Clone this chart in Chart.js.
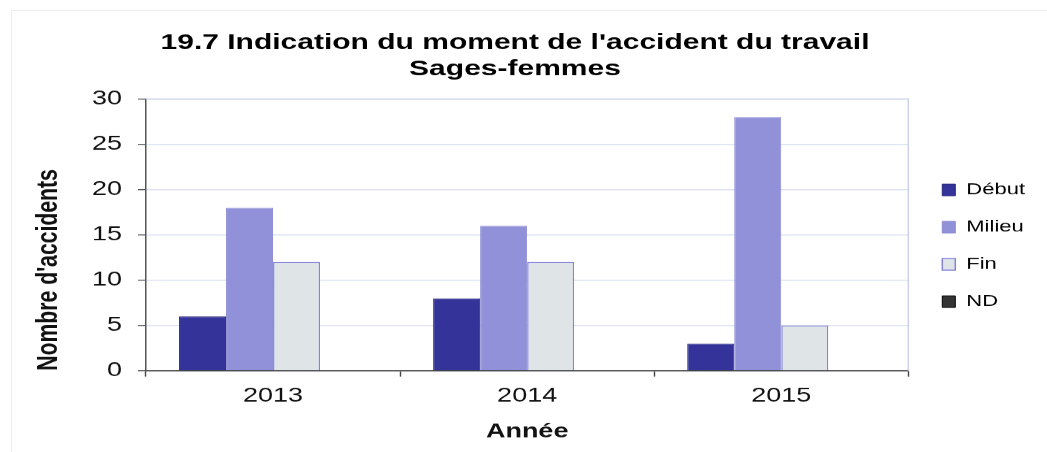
<!DOCTYPE html>
<html>
<head>
<meta charset="utf-8">
<script src="https://cdn.jsdelivr.net/npm/chart.js@4/dist/chart.umd.min.js"></script>
<style>
	html, body { margin: 0; padding: 0; background: #fff; overflow: hidden; }
	#wrap { position: relative; width: 1047px; height: 452px; overflow: hidden; }
	#frame { position: absolute; left: 11px; top: 10px; width: 1100px; height: 500px; border-left: 1px solid #eeeeee; border-top: 1px solid #eeeeee; }
	/* the source picture is squashed vertically, so draw tall and squash */
	#squash { position: absolute; left: 0; top: 0; width: 1047px; height: 619px; transform: scaleY(0.7302); transform-origin: 0 0; }
</style>
</head>
<body>
<div id="wrap">
	<div id="frame"></div>
	<div id="squash"><canvas id="chart" width="1047" height="619"></canvas></div>
</div>
<script>
const years = ['2013', '2014', '2015'];
const debut = [6, 8, 3];
const milieu = [18, 16, 28];
const fin = [12, 12, 5];
const nd = [0, 0, 0];
const titleLines = ["19.7 Indication du moment de l'accident du travail", 'Sages-femmes'];
const xTitle = 'Année';
const yTitle = "Nombre d'accidents";

const family = "'Liberation Sans', Arial, sans-serif";

// move legend a bit right and down, like the original
const legendShift = {
	id: 'legendShift',
	afterLayout(chart) {
		const lg = chart.legend;
		lg.left += 5;
		lg.right += 5;
		lg.top += 15;
		lg.bottom += 15;
	}
};

// light blue frame on top and right of plot area
const plotFrame = {
	id: 'plotFrame',
	beforeDatasetsDraw(chart) {
		const ctx = chart.ctx, a = chart.chartArea;
		ctx.save();
		ctx.strokeStyle = '#c8d0ec';
		ctx.lineWidth = 1.4;
		ctx.beginPath();
		ctx.moveTo(a.left, a.top);
		ctx.lineTo(a.right, a.top);
		ctx.lineTo(a.right, a.bottom);
		ctx.stroke();
		ctx.restore();
	}
};

var ctx = document.getElementById('chart').getContext('2d');
var chart = new Chart(ctx, {
	type: 'bar',
	data: {
		labels: years,
		datasets: [
			{ label: 'Début', data: debut, backgroundColor: '#333399', borderColor: '#28287e', borderWidth: 1 },
			{ label: 'Milieu', data: milieu, backgroundColor: '#9191d9', borderColor: '#8a8ad2', borderWidth: 1 },
			{ label: 'Fin', data: fin, backgroundColor: '#dfe4e6', borderColor: '#8383dc', borderWidth: 1.5 },
			{ label: 'ND', data: nd, backgroundColor: '#333333', borderColor: '#000000', borderWidth: 1 }
		]
	},
	options: {
		responsive: false,
		animation: false,
		datasets: { bar: { categoryPercentage: 0.74, barPercentage: 1.0 } },
		layout: { padding: { left: 0, right: 17, top: 0, bottom: 0 } },
		plugins: {
			title: {
				display: true,
				text: titleLines,
				color: '#000',
				font: { family: family, size: 30, weight: 'bold', lineHeight: 1.2 },
				padding: { top: 41, bottom: 22.5 }
			},
			legend: {
				position: 'right',
				fullSize: false,
				labels: {
					boxWidth: 13,
					boxHeight: 16,
					padding: 29,
					color: '#000',
					font: { family: family, size: 22 }
				}
			},
			tooltip: { enabled: false }
		},
		scales: {
			x: {
				grid: { offset: true, drawOnChartArea: false, tickLength: 8, tickColor: '#444', tickWidth: 1.4 },
				border: { color: '#444', width: 1.4 },
				ticks: { color: '#111', padding: 11, font: { family: family, size: 27 } },
				title: {
					display: true,
					text: xTitle,
					color: '#111',
					font: { family: family, size: 27, weight: 'bold' },
					padding: { top: 5.5, bottom: 11 }
				}
			},
			y: {
				min: 0,
				max: 30,
				ticks: { stepSize: 5, color: '#111', padding: 16, font: { family: family, size: 27 } },
				grid: { color: '#dae0f2', lineWidth: 1.4, tickLength: 8, tickColor: '#555', tickWidth: 1.4 },
				border: { color: '#555', width: 1.5 },
				title: {
					display: true,
					text: yTitle,
					align: 'start',
					color: '#111',
					font: { family: family, size: 29, weight: 'bold' },
					padding: { top: 32, bottom: 0 }
				},
				afterFit(scale) { scale.width = 146; }
			}
		}
	},
	plugins: [legendShift, plotFrame]
});
</script>
</body>
</html>
